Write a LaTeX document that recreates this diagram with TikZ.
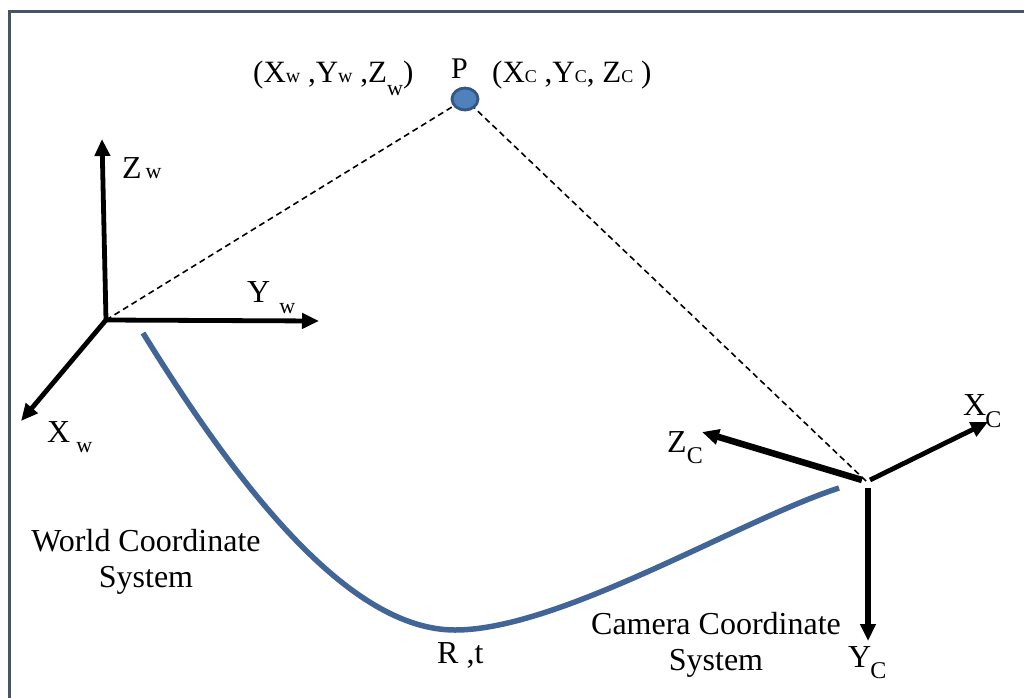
\documentclass[tikz,border=0pt]{standalone}
\usepackage{fontspec}
\setmainfont{Liberation Serif}
\usetikzlibrary{arrows.meta,shapes.geometric}
\definecolor{framecol}{RGB}{70,84,104}
\definecolor{curvecol}{RGB}{65,101,150}
\definecolor{pfill}{RGB}{79,129,189}
\definecolor{pdraw}{RGB}{52,88,132}
\newcommand{\fsz}[1]{\fontsize{#1}{#1}\selectfont}
\tikzset{
  axis/.style={line width=4.8pt,-{Triangle[length=17pt,width=15pt]}},
  dashline/.style={line width=1.6pt,dash pattern=on 6pt off 4pt},
  lbl/.style={inner sep=0pt,anchor=base west,font=\fsz{32}},
  blbl/.style={inner sep=0pt,align=center,font=\fsz{32}}
}
\begin{document}
\begin{tikzpicture}[x=1pt,y=-1pt]
\clip (0,0) rectangle (1024,697);
\fill[white] (0,0) rectangle (1024,697);
% frame
\draw[framecol,line width=3pt] (9,11) rectangle (1040,720);

% point P
\node[ellipse,fill=pfill,draw=pdraw,line width=2.8pt,minimum width=26pt,minimum height=22pt,inner sep=0pt] (P) at (465,99) {};
\node[lbl,font=\fsz{30}] (Plbl) at (451,78) {P};
\node[lbl,font=\fsz{31}] (wlbl) at (253,82) {(X{\fsz{20}w} ,Y{\fsz{20}w} ,Z\raisebox{-13pt}{\fsz{22}w})};
\node[lbl,font=\fsz{31}] (clbl) at (492,82) {(X{\fsz{18}C} ,Y{\fsz{18}C}, Z{\fsz{18}C} )};

% world frame
\coordinate (Ow) at (106,320);
\coordinate (Zwend) at (102,139);
\coordinate (Ywend) at (319,321);
\coordinate (Xwend) at (21,421);
\draw[axis] (Ow) -- (Zwend);
\draw[axis] (Ow) -- (Ywend);
\draw[axis] (Ow) -- (Xwend);
\draw[dashline] (Ow) -- (P);
\node[lbl] (Zw) at (122,178) {Z\hspace{4pt}{\fsz{22}w}};
\node[lbl] (Yw) at (247,302) {Y\hspace{9pt}\raisebox{-11pt}{\fsz{22}w}};
\node[lbl] (Xw) at (47,442) {X\hspace{6pt}\raisebox{-10pt}{\fsz{22}w}};

% camera frame
\coordinate (Oc) at (866,481);
\coordinate (Zcs) at (862,480);
\coordinate (Xcs) at (870,480);
\coordinate (Ycs) at (868,488);
\coordinate (Zcend) at (702,432);
\coordinate (Xcend) at (988,422);
\coordinate (Ycend) at (868,641);
\draw[axis,line width=6.5pt] (Zcs) -- (Zcend);
\draw[axis] (Xcs) -- (Xcend);
\draw[axis,line width=5.6pt] (Ycs) -- (Ycend);
\draw[dashline] (Oc) -- (P);
\node[lbl] (Zc) at (667,452) {Z\hspace{0pt}\raisebox{-11pt}{\fsz{24}C}};
\node[lbl] (Xc) at (963,415) {X\hspace{-1pt}\raisebox{-12pt}{\fsz{24}C}};
\node[lbl] (Yc) at (848,667) {Y\hspace{-1pt}\raisebox{-11pt}{\fsz{24}C}};

% transformation curve
\coordinate (Cs) at (143,333);
\coordinate (Cm) at (455,630);
\coordinate (Ce) at (839,488);
\draw[curvecol,line width=5.5pt] (Cs) .. controls (240,490) and (350,630) .. (Cm)
  .. controls (560,630) and (740,520) .. (Ce);

\node[lbl] (Rt) at (437,663) {R ,t};
\node[blbl,anchor=base] (wcs) at (146,587) {World Coordinate\\[4pt]System};
\node[blbl,anchor=base] (ccs) at (716,670) {Camera Coordinate\\[4pt]System};
\end{tikzpicture}
\end{document}
